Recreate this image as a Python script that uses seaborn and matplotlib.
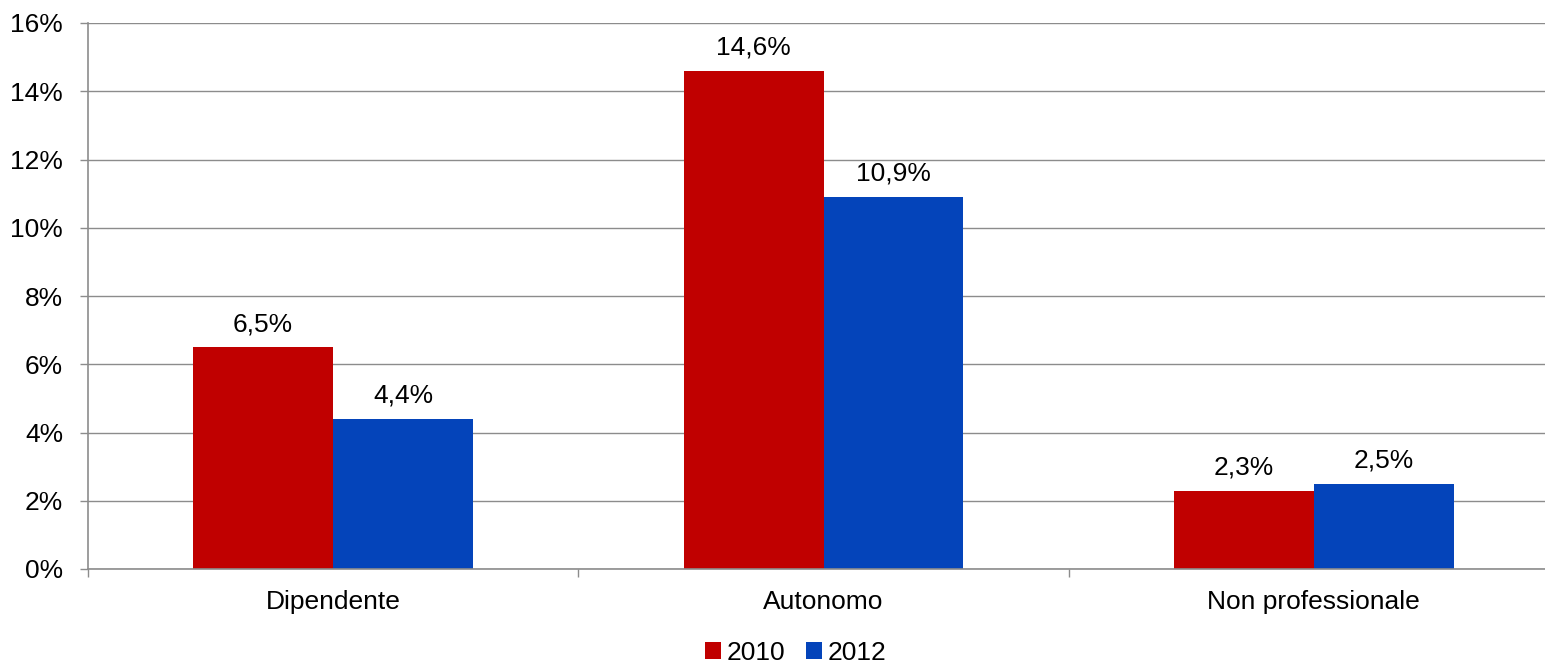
import matplotlib
matplotlib.use("Agg")
import matplotlib.pyplot as plt
import seaborn as sns
import pandas as pd
from matplotlib.ticker import FuncFormatter

categories = ["Dipendente", "Autonomo", "Non professionale"]
years = ["2010", "2012"]
values_2010 = [6.5, 14.6, 2.3]
values_2012 = [4.4, 10.9, 2.5]
colors = ["#C00000", "#0444BA"]

df = pd.DataFrame({
    "categoria": categories * 2,
    "anno": [years[0]] * 3 + [years[1]] * 3,
    "valore": values_2010 + values_2012,
})

sns.set_style("white")
plt.rcParams["font.family"] = ["Liberation Sans", "DejaVu Sans"]
plt.rcParams["text.color"] = "black"
plt.rcParams["xtick.color"] = "#8c8c8c"
plt.rcParams["ytick.color"] = "#8c8c8c"
plt.rcParams["xtick.labelcolor"] = "black"
plt.rcParams["ytick.labelcolor"] = "black"

fs = 19

fig = plt.figure(figsize=(15.45, 6.63), dpi=100)
ax = fig.add_axes([88 / 1545, 1 - 569 / 663, 1471 / 1545, 546 / 663])

sns.barplot(data=df, x="categoria", y="valore", hue="anno", palette=colors,
            width=0.571, gap=0, saturation=1, linewidth=0, ax=ax, legend=True)

for container in ax.containers:
    ax.bar_label(container, labels=[f"{v:.1f}%".replace(".", ",") for v in container.datavalues],
                 padding=8, fontsize=fs, color="black")

ax.set_xlim(-0.5, 2.5)
ax.set_ylim(0, 16)
ax.set_yticks(range(0, 17, 2))
ax.yaxis.set_major_formatter(FuncFormatter(lambda v, p: f"{int(v)}%"))
ax.set_xticks([-0.5, 0.5, 1.5, 2.5], minor=False)
ax.set_xticks([0, 1, 2], minor=True)
ax.set_xticklabels([], minor=False)
ax.set_xticklabels(categories, minor=True)
ax.tick_params(axis="x", which="major", bottom=True, length=6, width=1)
ax.tick_params(axis="x", which="minor", bottom=True, length=0, labelsize=fs, pad=15)
ax.tick_params(axis="y", left=True, length=6, width=1, labelsize=fs, pad=12)
ax.set_xlabel("")
ax.set_ylabel("")
ax.grid(axis="y", color="#8c8c8c", linewidth=1)
ax.set_axisbelow(True)
for s in ["top", "right"]:
    ax.spines[s].set_visible(False)
for s in ["left", "bottom"]:
    ax.spines[s].set_color("#8c8c8c")
    ax.spines[s].set_linewidth(1.2)

ax.legend(loc="lower center", bbox_to_anchor=(0.481, -0.2), ncol=2, frameon=False,
          fontsize=fs, handlelength=0.6, handleheight=0.6, handletextpad=0.2,
          columnspacing=0.8, borderpad=0, bbox_transform=ax.transAxes)

fig.savefig("out.png", dpi=100)
